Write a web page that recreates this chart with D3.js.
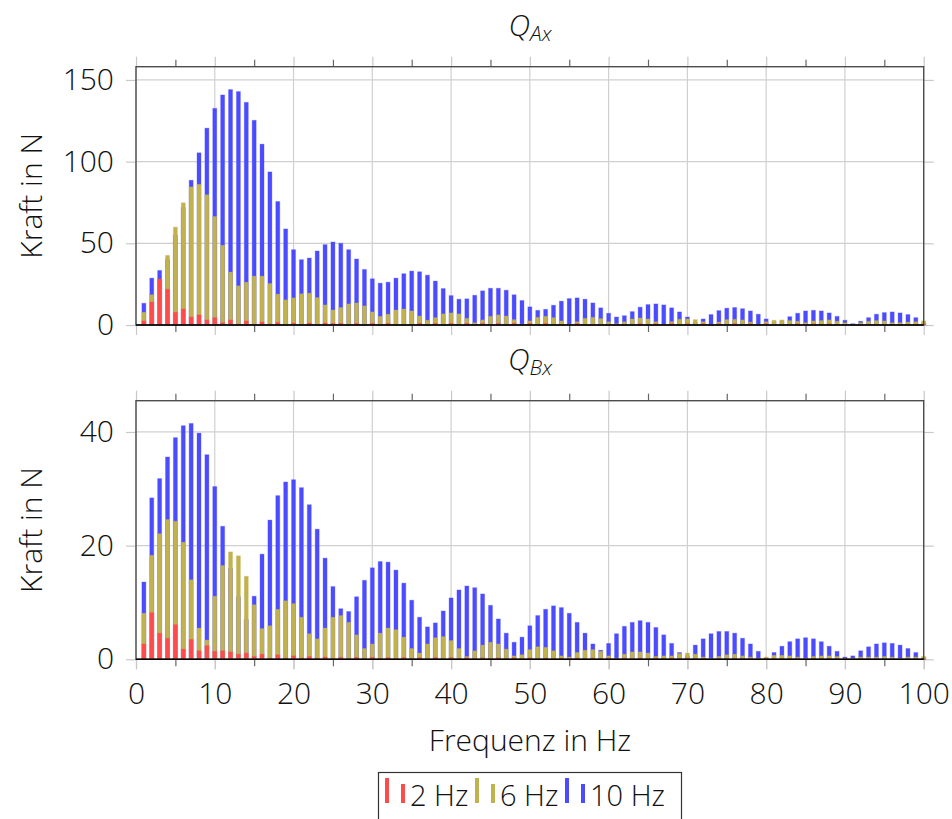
<!DOCTYPE html>
<html>
<head>
<meta charset="utf-8">
<script src="https://cdn.jsdelivr.net/npm/d3@7/dist/d3.min.js"></script>
<style>
  body { margin: 0; background: #fff; }
  text { font-family: "Open Sans", sans-serif; font-weight: 300; fill: #111; }
</style>
</head>
<body>
<script>
// Frequenzen 1..100 Hz
var freq = d3.range(1, 101);

var seriesNames = ["2 Hz", "6 Hz", "10 Hz"];
var seriesColors = ["#ff4b4b", "#c1b24f", "#4b4bff"];

// ---- Q_Ax ----
var qa2 = [2.5,14.1,28.1,21.9,7.8,9.8,4.9,6.2,3.1,4.5, 1.4,3.1,0.6,2.5,0.3,1.8,0.5,1.6,0.3,1.2,
  0.3,1.2,0.3,1.2,1.0,1.0,0.3,1.0,0.3,1.0, 0.2,1.0,0.2,0.2,0.2,1.0,0.2,1.0,0.2,1.0,
  0.2,1.0,0.2,1.0,0.2,1.0,0.2,1.0,0.2,1.0, 0.2,1.0,0.2,0.2,0.2,0.9,0.2,0.2,0.2,0.2,
  0.2,0.2,0.2,0.8,0.2,0.8,0.2,0.8,0.2,0.8, 0.2,0.8,0.2,0.8,0.2,0.8,0.2,0.8,0.2,0.8,
  0.2,0.2,0.2,0.7,0.2,0.7,0.2,0.7,0.2,0.2, 0.2,0.2,0.2,0.2,0.2,0.2,0.2,0.2,0.2,0.2];
var qa6 = [7.8,18.5,24,42.6,59.9,74.8,84.5,86.1,79.7,66.4, 48.8,32.4,24.0,26.2,29.9,29.9,25.4,18.9,15.4,16.6,
  19.1,19.5,16.8,12.3,9.2,10.7,12.9,13.5,11.7,8.0, 5.3,6.6,9.2,9.8,8.6,5.5,2.9,4.5,6.8,7.4,
  6.8,4.1,1.4,3.1,5.3,6.2,5.5,3.3,0.6,2.5, 4.7,5.3,4.5,2.5,0.5,2.0,4.1,4.7,3.9,2.0,
  0.8,2.0,3.7,4.3,3.7,2.0,0.4,2.0,3.5,3.7, 3.3,2.0,0.4,1.8,3.3,3.5,3.1,1.8,0.4,2.0,
  2.9,3.1,2.7,2.3,1.4,2.5,2.7,3.1,2.3,1.4, 0.4,1.4,2.3,2.7,2.5,1.4,1.4,1.8,2.0,2.5];
var qa10 = [13.3,28.7,33.4,40,55,72,88.6,105.4,120.5,132.6, 140.8,144.1,142.9,136.3,125.3,110.7,93.7,75.6,58.8,46.1,
  40.0,41.0,45.3,49.2,50.8,50.0,46.1,40.4,34.0,28.3, 25.6,26.2,28.7,31.4,33.0,32.6,30.5,26.9,22.3,18.0,
  15.8,16.0,18.2,20.9,22.5,22.5,21.3,18.5,15.0,11.1, 9.0,9.6,12.1,14.6,16.2,16.6,15.8,13.5,10.5,7.2,
  4.9,5.7,8.2,10.9,12.5,12.9,12.3,10.5,8.0,4.9, 1.5,3.7,6.4,8.8,10.3,10.7,10.0,8.6,6.6,3.7,
  2.0,2.5,5.1,7.2,8.6,9.0,8.6,7.4,5.3,2.9, 0.8,2.3,4.5,6.6,7.6,8.0,7.4,6.4,4.5,1.5];

// ---- Q_Bx ----
var qb2 = [2.7,8.2,4.6,3.7,6.1,1.8,3.5,1.5,2.4,1.4, 1.5,1.3,0.9,1.1,0.5,0.9,0.2,0.8,0.2,0.6,
  0.2,0.5,0.2,0.4,0.1,0.35,0.1,0.35,0.1,0.35, 0.1,0.3,0.1,0.3,0.1,0.3,0.1,0.3,0.1,0.3,
  0.1,0.25,0.1,0.25,0.1,0.25,0.1,0.25,0.1,0.25, 0.1,0.2,0.1,0.2,0.1,0.2,0.1,0.2,0.1,0.2,
  0.1,0.2,0.1,0.2,0.1,0.2,0.1,0.2,0.1,0.2, 0.1,0.15,0.1,0.15,0.1,0.15,0.1,0.15,0.1,0.15,
  0.1,0.15,0.1,0.15,0.1,0.15,0.1,0.15,0.1,0.15, 0.1,0.1,0.1,0.1,0.1,0.1,0.1,0.1,0.1,0.1];
var qb6 = [8.1,18.3,22.1,24.6,24.3,20.6,14.0,5.5,3.4,11.1, 16.5,18.9,18.2,14.6,9.6,5.4,5.9,8.8,10.3,9.8,
  7.4,4.5,3.6,5.5,7.4,7.7,6.5,4.3,1.9,2.7, 4.6,5.5,5.2,3.9,1.9,1.1,2.7,3.8,4.0,3.3,
  1.9,0.5,1.5,2.5,3.0,2.7,1.8,0.6,0.8,1.7, 2.2,2.1,1.5,0.6,0.4,1.2,1.6,1.7,1.4,0.6,
  0.2,0.9,1.3,1.3,1.1,0.5,0.6,0.6,1.0,1.1, 0.9,0.4,0.2,0.5,0.8,0.9,0.6,0.4,0.2,0.4,
  0.7,0.7,0.6,0.4,0.2,0.5,0.6,0.6,0.5,0.2, 0.2,0.4,0.4,0.4,0.5,0.4,0.2,0.4,0.4,0.5];
var qb10 = [13.6,28.4,31.8,35.6,39.0,41.1,41.5,39.8,36.0,30.4, 23.4,16,11,7,11.1,18.5,24.5,28.8,31.2,31.6,
  30.2,27.2,22.9,17.8,12.8,8.9,8.4,11.0,13.9,16.1, 17.2,17.1,15.7,13.4,10.4,7.4,5.7,6.4,8.5,10.8,
  12.2,12.9,12.6,11.5,9.5,7.1,4.6,3.0,3.9,5.9, 7.7,8.8,9.4,9.1,8.1,6.5,4.6,2.7,1.6,2.8,
  4.5,5.8,6.5,6.8,6.5,5.6,4.3,2.8,1.2,0.6, 2.5,3.6,4.5,4.9,4.9,4.6,3.7,2.7,1.4,0.2,
  1.2,2.3,3.1,3.6,3.8,3.6,3.1,2.3,1.4,0.4, 0.6,1.5,2.2,2.7,2.9,2.8,2.5,1.9,1.2,0.3];

var xTicks = [0,10,20,30,40,50,60,70,80,90,100];
var xMinor = [5,15,25,35,45,55,65,75,85,95];

var panels = [
  {sub: "Ax", top: 66.7, bottom: 325, ymax: 158.1, yTicks: [0,50,100,150], data: [qa2, qa6, qa10]},
  {sub: "Bx", top: 400.7, bottom: 659.3, ymax: 45.5, yTicks: [0,20,40], data: [qb2, qb6, qb10]}
];

var left = 136, right = 923.7;

var svg = d3.select("body").append("svg")
  .attr("width", 952).attr("height", 819);

var x = d3.scaleLinear().domain([0, 100]).range([left, right]);

panels.forEach(function(p, pi){
  var y = d3.scaleLinear().domain([0, p.ymax]).range([p.bottom, p.top]);
  var g = svg.append("g");

  // grid
  g.selectAll(".vgrid").data(xTicks).enter().append("line")
    .attr("x1", function(d){ return x(d); }).attr("x2", function(d){ return x(d); })
    .attr("y1", p.top).attr("y2", p.bottom)
    .attr("stroke", "#d0d0d0").attr("stroke-width", 1.2);
  g.selectAll(".hgrid").data(p.yTicks).enter().append("line")
    .attr("x1", left).attr("x2", right)
    .attr("y1", function(d){ return y(d); }).attr("y2", function(d){ return y(d); })
    .attr("stroke", "#d0d0d0").attr("stroke-width", 1.2);

  // axes: major ticks (grey, outward), minor ticks (dark)
  var axes = [
    {ax: d3.axisBottom(x).tickValues(xTicks).tickSize(10), tr: "translate(0," + p.bottom + ")", col: "#c8c8c8"},
    {ax: d3.axisTop(x).tickValues(xTicks).tickSize(10), tr: "translate(0," + p.top + ")", col: "#c8c8c8"},
    {ax: d3.axisBottom(x).tickValues(xMinor).tickSize(7), tr: "translate(0," + p.bottom + ")", col: "#666"},
    {ax: d3.axisTop(x).tickValues(xMinor).tickSize(7), tr: "translate(0," + p.top + ")", col: "#666"},
    {ax: d3.axisRight(y).tickValues(p.yTicks).tickSize(10), tr: "translate(" + right + ",0)", col: "#c8c8c8"}
  ];
  axes.forEach(function(a){
    var ga = g.append("g").attr("transform", a.tr).call(a.ax.tickFormat(""));
    ga.select(".domain").remove();
    ga.selectAll("line").attr("stroke", a.col).attr("stroke-width", 1.2);
  });

  var yAxis = g.append("g").attr("transform", "translate(" + left + ",0)")
    .call(d3.axisLeft(y).tickValues(p.yTicks).tickSize(10).tickPadding(12));
  yAxis.select(".domain").remove();
  yAxis.selectAll("line").attr("stroke", "#c8c8c8").attr("stroke-width", 1.2);
  yAxis.selectAll("text").style("font-size", "30px").style("font-family", "Open Sans").attr("fill", "#111");

  if (pi === 1) {
    var xAxis = g.append("g").attr("transform", "translate(0," + p.bottom + ")")
      .call(d3.axisBottom(x).tickValues(xTicks).tickSize(10).tickPadding(13));
    xAxis.select(".domain").remove();
    xAxis.selectAll("line").attr("stroke", "#c8c8c8").attr("stroke-width", 1.2);
    xAxis.selectAll("text").style("font-size", "30px").style("font-family", "Open Sans").attr("fill", "#111");
  }

  // bars: 10 Hz hinten, 2 Hz vorne
  [2, 1, 0].forEach(function(si){
    g.append("g").selectAll("rect").data(p.data[si]).enter().append("rect")
      .attr("x", function(d, i){ return x(freq[i]) - 2; })
      .attr("width", 4)
      .attr("y", function(d){ return y(d); })
      .attr("height", function(d){ return y(0) - y(d); })
      .attr("fill", seriesColors[si])
      .attr("stroke", seriesColors[si])
      .attr("stroke-opacity", 0.3)
      .attr("stroke-width", 1);
  });

  // frame
  g.append("rect")
    .attr("x", left).attr("y", p.top)
    .attr("width", right - left).attr("height", p.bottom - p.top)
    .attr("fill", "none").attr("stroke", "#4d4d4d").attr("stroke-width", 1.4);
  g.append("line")
    .attr("x1", left).attr("x2", right)
    .attr("y1", y(0)).attr("y2", y(0))
    .attr("stroke", "#000").attr("stroke-width", 1.6);

  // Titel Q_Ax / Q_Bx
  var t = svg.append("text")
    .attr("x", 530).attr("y", p.top - 31)
    .attr("text-anchor", "middle")
    .style("font-style", "italic");
  t.append("tspan").style("font-size", "30px").text("Q");
  t.append("tspan").style("font-size", "21px").attr("dy", 5).text(p.sub);

  // y-Beschriftung
  svg.append("text")
    .attr("transform", "translate(42," + ((p.top + p.bottom) / 2) + ") rotate(-90)")
    .attr("text-anchor", "middle")
    .style("font-size", "30px")
    .text("Kraft in N");
});

svg.append("text")
  .attr("x", 530).attr("y", 751)
  .attr("text-anchor", "middle")
  .style("font-size", "30px")
  .text("Frequenz in Hz");

// Legende
var lg = svg.append("g");
lg.append("rect")
  .attr("x", 378.5).attr("y", 772.5).attr("width", 303).attr("height", 60)
  .attr("fill", "#fff").attr("stroke", "#333").attr("stroke-width", 1.2);
var legX = [387, 477, 567];
seriesNames.forEach(function(name, i){
  var item = lg.append("g").attr("transform", "translate(" + legX[i] + ",0)");
  item.append("rect").attr("x", -2).attr("y", 778).attr("width", 4).attr("height", 25)
    .attr("fill", seriesColors[i]);
  item.append("rect").attr("x", 14).attr("y", 784).attr("width", 4).attr("height", 19)
    .attr("fill", seriesColors[i]);
  item.append("text").attr("x", 23).attr("y", 806)
    .style("font-size", "29px").text(name);
});
</script>
</body>
</html>
